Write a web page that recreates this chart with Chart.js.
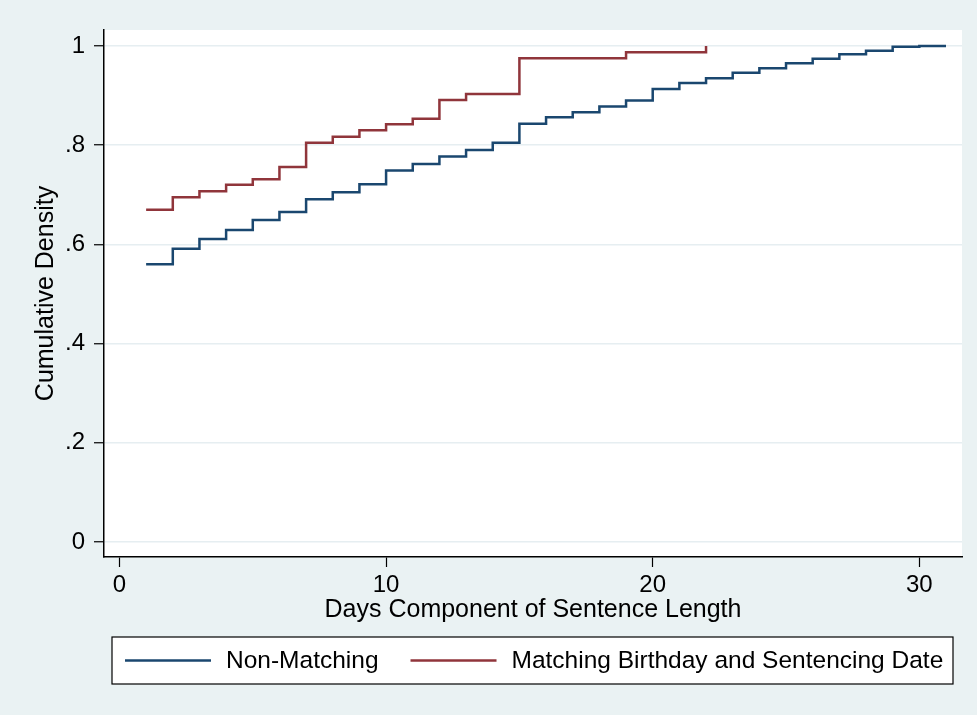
<!DOCTYPE html>
<html>
<head>
<meta charset="utf-8">
<script src="https://cdn.jsdelivr.net/npm/chart.js@4/dist/chart.umd.min.js"></script>
<style>
  html, body { margin: 0; padding: 0; background: #eaf2f3; }
  #wrap { position: relative; width: 977px; height: 715px; }
</style>
</head>
<body>
<div id="wrap"><canvas id="cdfChart" width="977" height="715"></canvas></div>
<script>
// days component (x) and cumulative density per series
const daysNonMatching = [1, 2, 3, 4, 5, 6, 7, 8, 9, 10, 11, 12, 13, 14, 15, 16, 17, 18, 19, 20, 21, 22, 23, 24, 25, 26, 27, 28, 29, 30, 31];
const cdfNonMatching = [0.560, 0.591, 0.611, 0.629, 0.649, 0.665, 0.691, 0.705, 0.721, 0.749, 0.762, 0.777, 0.790, 0.805, 0.843, 0.856, 0.866, 0.878, 0.890, 0.913, 0.925, 0.935, 0.946, 0.955, 0.965, 0.974, 0.983, 0.990, 0.998, 1.000, 1.000];
const daysMatching = [1, 2, 3, 4, 5, 6, 7, 8, 9, 10, 11, 12, 13, 14, 15, 16, 17, 18, 19, 20, 21, 22];
const cdfMatching = [0.670, 0.695, 0.707, 0.720, 0.731, 0.756, 0.805, 0.817, 0.830, 0.842, 0.853, 0.891, 0.903, 0.903, 0.975, 0.975, 0.975, 0.975, 0.987, 0.987, 0.987, 1.000];

const seriesLabels = ['Non-Matching', 'Matching Birthday and Sentencing Date'];
const seriesColors = ['#1a476f', '#90353b'];
const xTicks = [0, 10, 20, 30];
const yTicks = [0, 0.2, 0.4, 0.6, 0.8, 1];
const yTickLabels = ['0', '.2', '.4', '.6', '.8', '1'];
const xTitle = 'Days Component of Sentence Length';
const yTitle = 'Cumulative Density';

const FONT = '"Liberation Sans", Arial, Helvetica, sans-serif';
Chart.defaults.font.family = FONT;
Chart.defaults.color = '#000';

function toPoints(xs, ys) {
    return xs.map((x, i) => ({ x: x, y: ys[i] }));
}

// white plot region
const plotBackground = {
    id: 'plotBackground',
    beforeDraw(chart) {
        const a = chart.chartArea;
        const ctx = chart.ctx;
        ctx.save();
        ctx.fillStyle = '#ffffff';
        ctx.fillRect(a.left, a.top, a.right - a.left, a.bottom - a.top);
        ctx.restore();
    }
};

// boxed legend below the axis title
const boxLegend = {
    id: 'boxLegend',
    afterDraw(chart) {
        const ctx = chart.ctx;
        const boxX = 112, boxY = 637, boxW = 841, boxH = 47;
        ctx.save();
        ctx.fillStyle = '#ffffff';
        ctx.fillRect(boxX, boxY, boxW, boxH);
        ctx.strokeStyle = '#000';
        ctx.lineWidth = 1.2;
        ctx.strokeRect(boxX, boxY, boxW, boxH);
        ctx.font = '24.5px ' + FONT;
        ctx.textBaseline = 'middle';
        const midY = boxY + boxH / 2;
        let x = boxX + 13;
        chart.data.datasets.forEach(ds => {
            ctx.strokeStyle = ds.borderColor;
            ctx.lineWidth = 2.5;
            ctx.beginPath();
            ctx.moveTo(x, midY);
            ctx.lineTo(x + 86, midY);
            ctx.stroke();
            x += 101;
            ctx.fillStyle = '#000';
            ctx.fillText(ds.label, x, midY + 1);
            x += ctx.measureText(ds.label).width + 32;
        });
        ctx.restore();
    }
};

const ctx = document.getElementById('cdfChart').getContext('2d');
const cdfChart = new Chart(ctx, {
    type: 'line',
    data: {
        datasets: [
            {
                label: seriesLabels[0],
                data: toPoints(daysNonMatching, cdfNonMatching),
                borderColor: seriesColors[0],
                borderWidth: 2.5,
                pointRadius: 0,
                stepped: true,
                fill: false
            },
            {
                label: seriesLabels[1],
                data: toPoints(daysMatching, cdfMatching),
                borderColor: seriesColors[1],
                borderWidth: 2.5,
                pointRadius: 0,
                stepped: true,
                fill: false
            }
        ]
    },
    options: {
        responsive: false,
        animation: false,
        layout: {
            padding: { left: 31, top: 30, right: 15, bottom: 90 }
        },
        plugins: {
            legend: { display: false },
            tooltip: { enabled: false }
        },
        scales: {
            x: {
                type: 'linear',
                min: -0.58,
                max: 31.6,
                afterBuildTicks: scale => { scale.ticks = xTicks.map(v => ({ value: v })); },
                afterFit: scale => { scale.height = 68; },
                ticks: {
                    font: { size: 24 },
                    padding: 4,
                    maxRotation: 0,
                    callback: v => String(v)
                },
                grid: {
                    drawOnChartArea: false,
                    drawTicks: true,
                    tickLength: 10,
                    tickColor: '#000',
                    tickWidth: 1.2
                },
                border: { display: true, color: '#000', width: 1.5 },
                title: {
                    display: true,
                    text: xTitle,
                    font: { size: 25 },
                    padding: 0
                }
            },
            y: {
                type: 'linear',
                min: -0.030,
                max: 1.032,
                afterBuildTicks: scale => { scale.ticks = yTicks.map(v => ({ value: v })); },
                afterFit: scale => { scale.width = 73; },
                ticks: {
                    font: { size: 24 },
                    padding: 9,
                    callback: (v) => {
                        const i = yTicks.findIndex(t => Math.abs(t - v) < 1e-9);
                        return i >= 0 ? yTickLabels[i] : '';
                    }
                },
                grid: {
                    color: '#e6eef1',
                    lineWidth: 1.5,
                    drawTicks: true,
                    tickLength: 10,
                    tickColor: '#000',
                    tickWidth: 1.2
                },
                border: { display: true, color: '#000', width: 1.5 },
                title: {
                    display: true,
                    text: yTitle,
                    font: { size: 25 },
                    padding: 0
                }
            }
        }
    },
    plugins: [plotBackground, boxLegend]
});
</script>
</body>
</html>
